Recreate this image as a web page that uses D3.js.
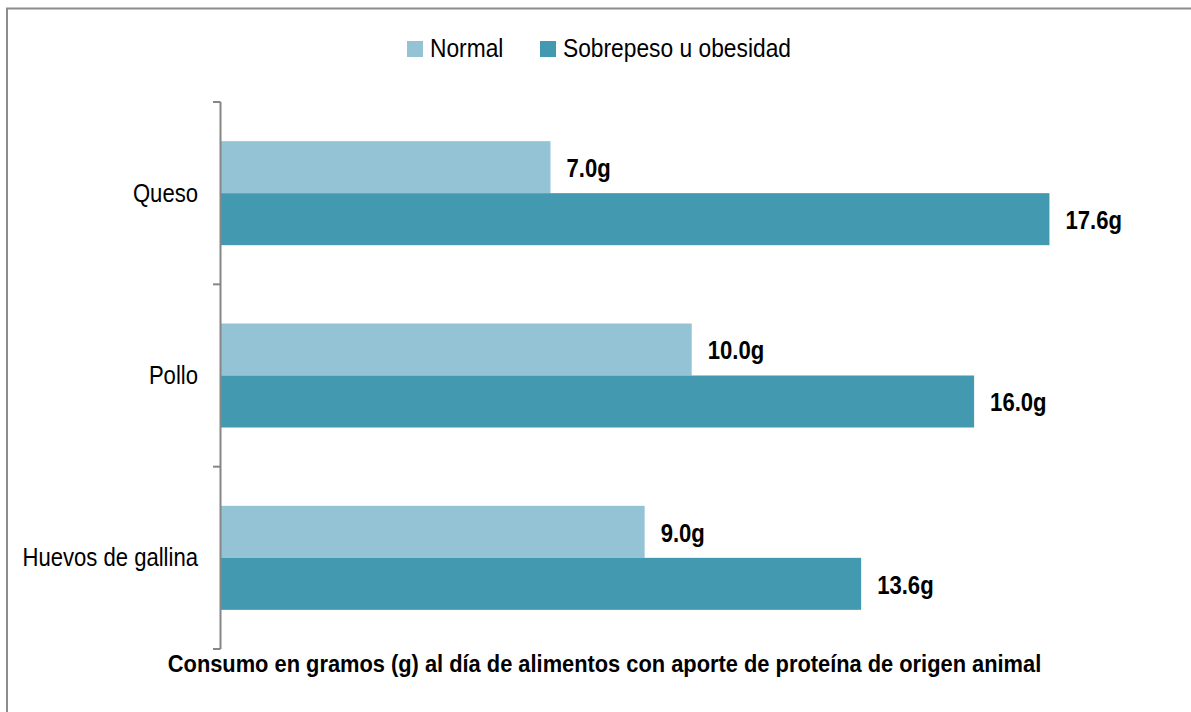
<!DOCTYPE html>
<html>
<head>
<meta charset="utf-8">
<script src="https://cdn.jsdelivr.net/npm/d3@7"></script>
<style>
  body { margin: 0; background: #fff; }
  svg { display: block; font-family: "Liberation Sans", Arial, sans-serif; }
</style>
</head>
<body>
<script>
// Chart data
const categories = ["Queso", "Pollo", "Huevos de gallina"];
const seriesNames = ["Normal", "Sobrepeso u obesidad"];
const normalValues = [7.0, 10.0, 9.0];
const sobrepesoValues = [17.6, 16.0, 13.6];
const xTitle = "Consumo en gramos (g) al día de alimentos con aporte de proteína de origen animal";

const width = 1191, height = 712;
const colors = ["#93c3d4", "#4399b0"];
// the original uses a narrow face; squeeze Liberation Sans horizontally
const narrow = 0.85;

const data = categories.map((c, i) => ({
  cat: c,
  values: [normalValues[i], sobrepesoValues[i]]
}));

const svg = d3.select("body").append("svg")
    .attr("width", width)
    .attr("height", height);

// outer chart frame
svg.append("rect")
    .attr("x", 7).attr("y", 8.5)
    .attr("width", 1300).attr("height", 900)
    .attr("fill", "none")
    .attr("stroke", "#8c8c8c")
    .attr("stroke-width", 2);

const x = d3.scaleLinear()
    .domain([0, 20])
    .range([221, 1162.4]);

const y = d3.scaleBand()
    .domain(categories)
    .range([102, 649]);

// bars inside each category band
const ySub = d3.scaleBand()
    .domain(seriesNames)
    .range([0, y.bandwidth()])
    .paddingOuter(0.753);

const color = d3.scaleOrdinal().domain(seriesNames).range(colors);

const groups = svg.append("g")
  .selectAll("g")
  .data(data)
  .join("g")
    .attr("transform", d => `translate(0,${y(d.cat)})`);

groups.selectAll("rect")
  .data(d => d.values.map((v, i) => ({ key: seriesNames[i], value: v })))
  .join("rect")
    .attr("x", x(0))
    .attr("y", d => ySub(d.key))
    .attr("width", d => x(d.value) - x(0))
    .attr("height", ySub.bandwidth())
    .attr("fill", d => color(d.key));

groups.selectAll("text")
  .data(d => d.values.map((v, i) => ({ key: seriesNames[i], value: v })))
  .join("text")
    .attr("transform", d => `translate(${x(d.value) + 16},${ySub(d.key) + ySub.bandwidth() / 2}) scale(${narrow},1)`)
    .attr("dy", "0.38em")
    .attr("font-size", 26)
    .attr("font-weight", "bold")
    .attr("fill", "#000")
    .text(d => d3.format(".1f")(d.value) + "g");

// category axis
const axis = svg.append("g");
axis.append("line")
    .attr("x1", x(0) - 0.5).attr("x2", x(0) - 0.5)
    .attr("y1", y.range()[0]).attr("y2", y.range()[1])
    .attr("stroke", "#868686")
    .attr("stroke-width", 2);

const edges = categories.map(c => y(c)).concat([y.range()[1]]);
axis.selectAll(".tick")
  .data(edges)
  .join("line")
    .attr("x1", x(0) - 8).attr("x2", x(0) - 0.5)
    .attr("y1", d => d).attr("y2", d => d)
    .attr("stroke", "#868686")
    .attr("stroke-width", 2);

axis.selectAll("text")
  .data(categories)
  .join("text")
    .attr("transform", d => `translate(${x(0) - 23},${y(d) + y.bandwidth() / 2}) scale(${narrow},1)`)
    .attr("dy", "0.33em")
    .attr("text-anchor", "end")
    .attr("font-size", 26)
    .attr("fill", "#000")
    .text(d => d);

// legend
const legendX = [407, 540];
const legend = svg.append("g")
  .selectAll("g")
  .data(seriesNames)
  .join("g")
    .attr("transform", (d, i) => `translate(${legendX[i]},41)`);

legend.append("rect")
    .attr("width", 16).attr("height", 16)
    .attr("fill", d => color(d));

legend.append("text")
    .attr("transform", `translate(23,16) scale(0.86,1)`)
    .attr("font-size", 26.5)
    .attr("fill", "#000")
    .text(d => d);

// x title
svg.append("text")
    .attr("transform", `translate(604.5,672) scale(0.91,1)`)
    .attr("text-anchor", "middle")
    .attr("font-size", 24)
    .attr("font-weight", "bold")
    .attr("fill", "#000")
    .text(xTitle);
</script>
</body>
</html>
